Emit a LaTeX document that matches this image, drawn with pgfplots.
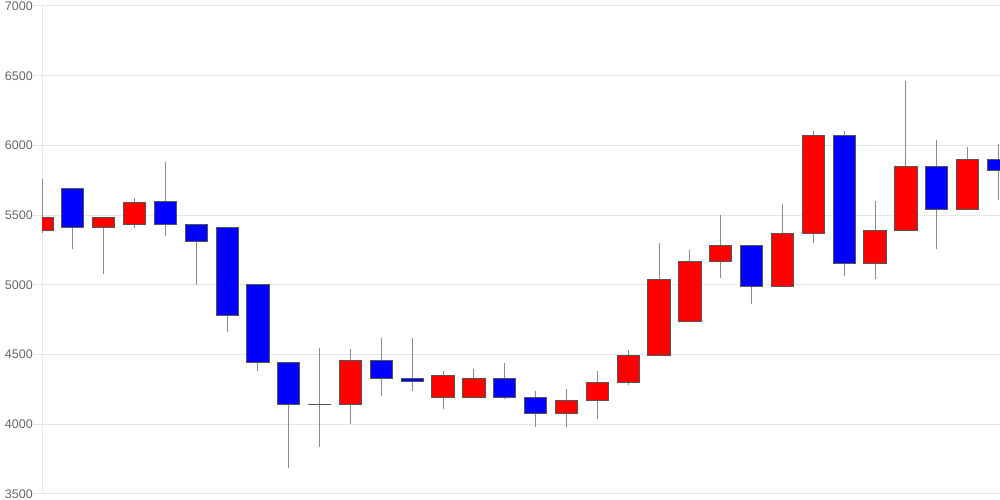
\documentclass[border=0pt]{standalone}
\usepackage{fontspec}
\setmainfont{Liberation Sans}
\usepackage{pgfplots}
\usepackage{pgfplotstable}
\pgfplotsset{compat=1.18}
\definecolor{gridc}{HTML}{E6E6E6}
\definecolor{labc}{HTML}{666666}
\definecolor{wickc}{HTML}{8A8A8A}
\definecolor{edgec}{HTML}{555555}
\definecolor{upc}{HTML}{FF0000}
\definecolor{dnc}{HTML}{0000FF}

% x open high low close | base up down (body bottom, rise, fall)
\pgfplotstableread{
x  o    h    l    c    base up  dn
0  5390 5760 5370 5480 5390 90  0
1  5690 5690 5260 5410 5410 0   280
2  5410 5480 5080 5480 5410 70  0
3  5430 5620 5410 5590 5430 160 0
4  5600 5880 5350 5430 5430 0   170
5  5430 5430 5000 5310 5310 0   120
6  5410 5410 4660 4780 4780 0   630
7  5000 5000 4380 4440 4440 0   560
8  4440 4440 3690 4140 4140 0   300
9  4140 4550 3840 4145 4140 5   0
10 4140 4540 4000 4460 4140 320 0
11 4460 4620 4200 4330 4330 0   130
12 4330 4620 4240 4310 4310 0   20
13 4190 4380 4110 4350 4190 160 0
14 4190 4400 4190 4330 4190 140 0
15 4330 4440 4180 4190 4190 0   140
16 4190 4240 3980 4080 4080 0   110
17 4080 4250 3980 4170 4080 90  0
18 4170 4380 4040 4300 4170 130 0
19 4300 4530 4280 4490 4300 190 0
20 4490 5300 4490 5040 4490 550 0
21 4740 5250 4740 5170 4740 430 0
22 5170 5500 5050 5280 5170 110 0
23 5280 5280 4860 4990 4990 0   290
24 4990 5580 4990 5370 4990 380 0
25 5370 6100 5300 6070 5370 700 0
26 6070 6100 5060 5150 5150 0   920
27 5150 5600 5040 5390 5150 240 0
28 5390 6460 5390 5850 5390 460 0
29 5850 6040 5260 5540 5540 0   310
30 5540 5990 5540 5900 5540 360 0
31 5900 6010 5610 5820 5820 0   80
}\data

\pgfplotsset{
  common/.style={
    at={(42pt,6pt)}, anchor=south west, scale only axis,
    width=958pt, height=488pt,
    xmin=0, xmax=31.05, ymin=3500, ymax=7000,
  }
}

\begin{document}
\begin{tikzpicture}[x=1pt,y=1pt]
\path[use as bounding box] (0,0) rectangle (1000,500);
\begin{axis}[
  common,
  axis x line=none,
  axis y line=left,
  axis line style={draw=gridc, line width=1pt, -},
  xtick=\empty,
  ytick={3500,4000,...,7000},
  ymajorgrids,
  grid style={draw=gridc, line width=1pt},
  tick align=outside,
  major tick length=9pt,
  tick style={draw=gridc, line width=1pt},
  /pgf/number format/assume math mode=true,
  /pgf/number format/1000 sep={},
  yticklabel style={font=\fontsize{12.5}{14}\selectfont, text=labc, inner sep=0pt, anchor=east},
]
\addplot[draw=none, mark=none, forget plot,
  error bars/.cd, y dir=plus, y explicit, error mark=none,
  error bar style={draw=wickc, line width=1pt, solid}]
  table[x=x, y=l, y error expr=\thisrow{h}-\thisrow{l}] {\data};
\end{axis}
\begin{axis}[
  common,
  hide axis,
  ybar stacked,
  bar width=0.72,
]
\addplot[draw=none, fill=none] table[x=x, y=base] {\data};
\addplot[draw=edgec, fill=upc, line width=1pt] table[x=x, y=up] {\data};
\addplot[draw=edgec, fill=dnc, line width=1pt] table[x=x, y=dn] {\data};
\end{axis}
\end{tikzpicture}
\end{document}
